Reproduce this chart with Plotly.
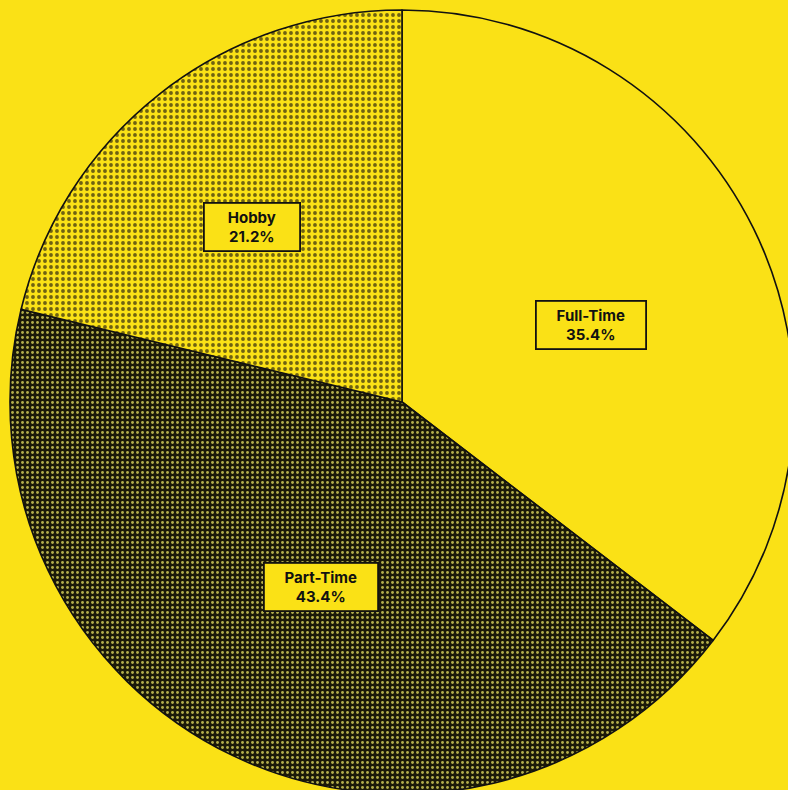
import math
import plotly.graph_objects as go

# Share of respondents by working arrangement
labels = ["Full-Time", "Part-Time", "Hobby"]
shares = [35.4, 43.4, 21.2]

YELLOW = "#FAE116"
INK = "#111111"

# Fill styles per slice: background, dot colour, dot spacing, dot solidity
fills = {
    "Full-Time": dict(bgcolor=YELLOW, fgcolor=YELLOW, shape="", size=6, solidity=0.3),
    "Part-Time": dict(bgcolor="#1c1a08", fgcolor="#b3ae4c", shape=".", size=5, solidity=0.26),
    "Hobby": dict(bgcolor=YELLOW, fgcolor="#6e6212", shape=".", size=6, solidity=0.32),
}
box_widths = {"Full-Time": 100, "Part-Time": 104, "Hobby": 86}

W, H = 804, 804
M = 10

fig = go.Figure(
    go.Pie(
        labels=labels,
        values=shares,
        sort=False,
        direction="clockwise",
        rotation=0,
        textinfo="none",
        hoverinfo="skip",
        showlegend=False,
        marker=dict(
            colors=[fills[l]["bgcolor"] for l in labels],
            line=dict(color=INK, width=1.6),
            pattern=dict(
                shape=[fills[l]["shape"] for l in labels],
                bgcolor=[fills[l]["bgcolor"] for l in labels],
                fgcolor=[fills[l]["fgcolor"] for l in labels],
                size=[fills[l]["size"] for l in labels],
                solidity=[fills[l]["solidity"] for l in labels],
                fillmode="replace",
            ),
        ),
    )
)

# Boxed labels centred on each slice's centroid (paper coords span the plot area)
total = sum(shares)
pw, ph = W - 2 * M, H - 2 * M
r = min(pw, ph) / 2
start = 0.0
for lab, val in zip(labels, shares):
    frac = val / total
    half = math.pi * frac  # half of the sweep, radians
    mid = 2 * math.pi * (start + frac / 2)
    dist = 2 * r * math.sin(half) / (3 * half)
    dx = dist * math.sin(mid)
    dy = dist * math.cos(mid)
    fig.add_annotation(
        x=0.5 + dx / pw,
        y=0.5 + dy / ph,
        xref="paper",
        yref="paper",
        xanchor="center",
        yanchor="middle",
        yshift=-16,
        text=f"{lab}<br>{val / total * 100:.1f}%",
        showarrow=False,
        font=dict(family="Inter, Liberation Sans, sans-serif", size=15, color=INK, weight=700),
        bgcolor=YELLOW,
        bordercolor=INK,
        borderwidth=1.8,
        borderpad=4,
        width=box_widths[lab],
        align="center",
    )
    start += frac

fig.update_layout(
    width=W,
    height=H,
    margin=dict(l=M, r=M, t=M, b=M),
    paper_bgcolor=YELLOW,
    plot_bgcolor=YELLOW,
)

fig.write_html(
    "out.html",
    post_script="document.documentElement.style.overflow='hidden';document.body.style.overflow='hidden';document.body.style.margin='0';",
)
